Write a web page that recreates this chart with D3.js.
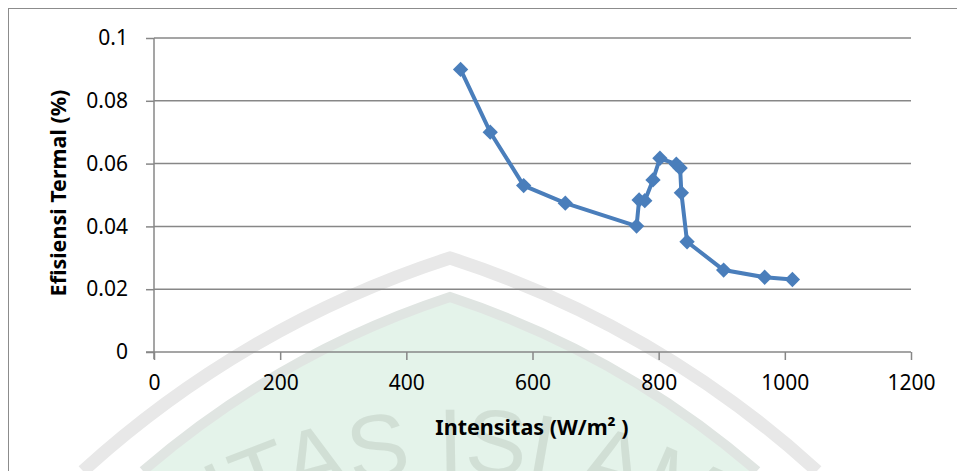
<!DOCTYPE html>
<html>
<head>
<meta charset="utf-8">
<script src="https://cdn.jsdelivr.net/npm/d3@7"></script>
<style>
  body { margin: 0; background: #fff; }
  svg { display: block; }
  .tick text { font-family: "Noto Sans", sans-serif; font-size: 21px; fill: #000; }
</style>
</head>
<body>
<svg id="chart" width="957" height="471"></svg>
<script>
// values
const intensitas = [486, 533, 586, 652, 765, 769, 778, 791, 802, 828, 834, 836, 845, 903, 968, 1012];
const efisiensi = [0.090, 0.070, 0.053, 0.0474, 0.0401, 0.0484, 0.0482, 0.0548, 0.0617, 0.0598, 0.0586, 0.0507, 0.0351, 0.0261, 0.0238, 0.0231];
const xTicks = [0, 200, 400, 600, 800, 1000, 1200];
const yTicks = [0, 0.02, 0.04, 0.06, 0.08, 0.1];

const svg = d3.select("#chart");

// background watermark (repository stamp)
const wm = svg.append("g");
wm.append("path")
  .attr("d", "M 143 471 A 900 900 0 0 1 450 297 A 900 900 0 0 1 757 471 Z")
  .attr("fill", "#e4f3ea");
wm.append("path")
  .attr("d", "M 83 471 A 1000 1000 0 0 1 450 258 A 1000 1000 0 0 1 817 471")
  .attr("fill", "none").attr("stroke", "#e8e8e8").attr("stroke-width", 13);
wm.append("path")
  .attr("d", "M 143 471 A 900 900 0 0 1 450 297 A 900 900 0 0 1 757 471")
  .attr("fill", "none").attr("stroke", "#e0e5e2").attr("stroke-width", 10);
wm.append("path")
  .attr("id", "wmArc")
  .attr("d", "M -71 1003 A 530 530 0 0 1 989 1003")
  .attr("fill", "none");
wm.append("text")
  .attr("font-family", "Liberation Sans, sans-serif")
  .attr("font-size", 92)
  .attr("fill", "#cbd9cf")
  .attr("opacity", 0.75)
  .append("textPath")
  .attr("href", "#wmArc")
  .attr("startOffset", 838)
  .attr("text-anchor", "middle")
  .text("ITAS ISLAM");

// chart border
svg.append("rect")
  .attr("x", 8.5).attr("y", 8.5)
  .attr("width", 1000).attr("height", 1000)
  .attr("fill", "none").attr("stroke", "#8c8c8c").attr("stroke-width", 1);

const x = d3.scaleLinear().domain([0, 1200]).range([154, 911]);
const y = d3.scaleLinear().domain([0, 0.1]).range([352, 38]);

// gridlines
svg.append("g")
  .selectAll("line")
  .data(yTicks.filter(d => d > 0))
  .enter().append("line")
  .attr("x1", x(0)).attr("x2", x(1200))
  .attr("y1", d => y(d)).attr("y2", d => y(d))
  .attr("stroke", "#878787").attr("stroke-width", 1.5);

// y axis
const yAxis = svg.append("g")
  .attr("transform", `translate(${x(0)},0)`)
  .call(d3.axisLeft(y).tickValues(yTicks).tickFormat(d => d === 0 ? "0" : String(+d.toFixed(2))).tickSize(8).tickPadding(18));
yAxis.selectAll("path, line").attr("stroke", "#878787").attr("stroke-width", 1.5);
yAxis.select(".domain").attr("d", `M0,${y(0.1)}V${y(0) + 7}`);

// x axis
const xAxis = svg.append("g")
  .attr("transform", `translate(0,${y(0)})`)
  .call(d3.axisBottom(x).tickValues(xTicks).tickFormat(d => String(d)).tickSize(8).tickPadding(15));
xAxis.selectAll("path, line").attr("stroke", "#878787").attr("stroke-width", 1.5);
xAxis.select(".domain").attr("d", `M${x(0) - 8},0H${x(1200)}`);

// series
const pts = intensitas.map((v, i) => ({ x: v, y: efisiensi[i] }));
const line = d3.line().x(d => x(d.x)).y(d => y(d.y));
svg.append("path")
  .datum(pts)
  .attr("d", line)
  .attr("fill", "none")
  .attr("stroke", "#4a7ebb")
  .attr("stroke-width", 4)
  .attr("stroke-linejoin", "round");

svg.append("g")
  .selectAll("path")
  .data(pts)
  .enter().append("path")
  .attr("d", d3.symbol().type(d3.symbolDiamond2).size(150))
  .attr("transform", d => `translate(${x(d.x)},${y(d.y)})`)
  .attr("fill", "#4a7ebb");

// axis titles
svg.append("text")
  .attr("x", 532).attr("y", 435)
  .attr("text-anchor", "middle")
  .attr("font-family", "Noto Sans, sans-serif")
  .attr("font-weight", "bold")
  .attr("font-size", 21.5)
  .text("Intensitas (W/m\u00B2 )");

svg.append("text")
  .attr("transform", "translate(66,193) rotate(-90)")
  .attr("text-anchor", "middle")
  .attr("font-family", "Noto Sans, sans-serif")
  .attr("font-weight", "bold")
  .attr("font-size", 21.5)
  .text("Efisiensi Termal (%)");
</script>
</body>
</html>
